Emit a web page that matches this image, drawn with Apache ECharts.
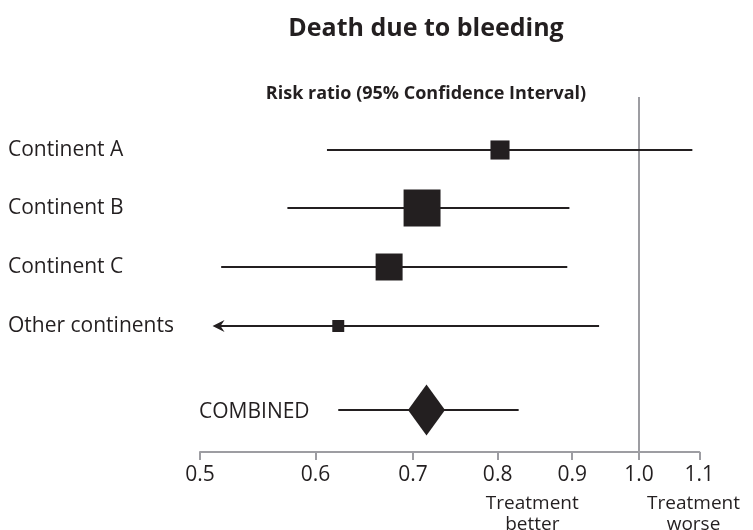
<!DOCTYPE html>
<html><head><meta charset="utf-8">
<script src="https://cdn.jsdelivr.net/npm/echarts@6/dist/echarts.min.js"></script>
<style>html,body{margin:0;padding:0;background:#fff}#main{width:753px;height:530px}</style>
</head><body><div id="main"></div>
<script>
// ---- data ----
const studies = ['Continent A', 'Continent B', 'Continent C', 'Other continents'];
const pointEst = [0.803, 0.710, 0.674, 0.622];
const lowerCI  = [0.611, 0.574, 0.517, 0.510];   // last one continues below axis (arrow)
const upperCI  = [1.088, 0.896, 0.893, 0.939];
const weights  = [14, 52.5, 28, 5.5];            // study weight (%) -> box area
const truncatedLow = [false, false, false, true];
const combinedLabel = 'COMBINED';
const combinedEst = 0.715, combinedLow = 0.622, combinedHigh = 0.827;
const xTicks = [0.5, 0.6, 0.7, 0.8, 0.9, 1.0, 1.1];
const refValue = 1.0;
const titleText = 'Death due to bleeding';
const subtitleText = 'Risk ratio (95% Confidence Interval)';
const betterText = 'Treatment\nbetter', worseText = 'Treatment\nworse';

// ---- layout ----
const INK = '#231f20', GREY = '#9d9da2';
const FONT = '"Open Sans", "Noto Sans", sans-serif';
const combinedRow = 4.43;
const betterAt = 0.845, worseAt = 1.09;

const rows = studies.map((s, i) => [pointEst[i], lowerCI[i], upperCI[i], i, weights[i], truncatedLow[i] ? 1 : 0, 0]);
rows.push([combinedEst, combinedLow, combinedHigh, combinedRow, 100, 0, 1]);

function renderItem(params, api) {
  const est = api.value(0), lo = api.value(1), hi = api.value(2), row = api.value(3);
  const w = api.value(4), trunc = api.value(5), kind = api.value(6);
  const pL = api.coord([lo, row]), pH = api.coord([hi, row]), pE = api.coord([est, row]);
  const y = Math.round(pE[1]);
  const children = [];
  children.push({type: 'line', shape: {x1: pL[0] + (trunc ? 6 : 0), y1: y, x2: pH[0], y2: y},
    style: {stroke: INK, lineWidth: 2}});
  if (trunc) {
    const x = pL[0];
    children.push({type: 'polygon', shape: {points: [[x, y], [x + 12, y - 6], [x + 8, y], [x + 12, y + 6]]},
      style: {fill: INK}});
  }
  if (kind === 0) {
    const s = 5.1 * Math.sqrt(w);
    children.push({type: 'rect', shape: {x: pE[0] - s / 2, y: y - s / 2, width: s, height: s}, style: {fill: INK}});
  } else {
    const hw = 18.5, hh = 25.5;
    children.push({type: 'polygon', shape: {points: [[pE[0], y - hh], [pE[0] + hw, y], [pE[0], y + hh], [pE[0] - hw, y]]},
      style: {fill: INK}});
    const x0 = api.coord([xTicks[0], row])[0];
    children.push({type: 'text', style: {text: combinedLabel, x: x0 - 1, y: y + 2, align: 'left', verticalAlign: 'middle',
      fill: INK, font: '21px ' + FONT}});
  }
  return {type: 'group', children};
}

const chart = echarts.init(document.getElementById('main'), null, {renderer: 'canvas'});
chart.setOption({
  backgroundColor: '#fff',
  animation: false,
  title: [
    {text: titleText, left: 421, top: 11, textAlign: 'center',
     textStyle: {fontFamily: FONT, fontSize: 25, fontWeight: 'bold', color: INK}},
    {text: subtitleText, left: 421, top: 80, textAlign: 'center',
     textStyle: {fontFamily: FONT, fontSize: 18, fontWeight: 'bold', color: INK}}
  ],
  grid: {left: 200, right: 53.7, top: 97, bottom: 78, containLabel: false},
  xAxis: {
    type: 'log', logBase: 10, min: xTicks[0], max: xTicks[xTicks.length - 1],
    axisLine: {show: true, onZero: false, lineStyle: {color: GREY, width: 2}},
    axisTick: {show: true, customValues: xTicks, length: 8, lineStyle: {color: GREY, width: 2}},
    axisLabel: {customValues: xTicks, formatter: v => Number(v).toFixed(1), margin: 13,
      fontFamily: FONT, fontSize: 21, color: INK},
    splitLine: {show: false}, minorTick: {show: false}
  },
  yAxis: {
    type: 'value', inverse: true, min: -0.9, max: 5.15,
    axisLine: {show: false}, axisTick: {show: false}, splitLine: {show: false},
    axisLabel: {customValues: studies.map((s, i) => i), formatter: v => studies[Math.round(v)] || '',
      align: 'left', margin: 192, padding: [4, 0, 0, 0], fontFamily: FONT, fontSize: 21, color: INK}
  },
  series: [{
    type: 'custom', renderItem, data: rows, silent: true, z: 3,
    encode: {x: [0, 1, 2], y: 3},
    markLine: {silent: true, symbol: 'none', label: {show: false}, z: 1,
      lineStyle: {color: GREY, width: 2, type: 'solid'},
      data: [{xAxis: refValue}]}
  }]
});
const bx = chart.convertToPixel({xAxisIndex: 0}, betterAt);
const wx = chart.convertToPixel({xAxisIndex: 0}, worseAt);
chart.setOption({graphic: [
  {type: 'text', x: bx, y: 493, style: {text: betterText, align: 'center', verticalAlign: 'top', lineHeight: 21,
    fill: INK, font: '19px ' + FONT}},
  {type: 'text', x: wx, y: 493, style: {text: worseText, align: 'center', verticalAlign: 'top', lineHeight: 21,
    fill: INK, font: '19px ' + FONT}}
]});
</script></body></html>
